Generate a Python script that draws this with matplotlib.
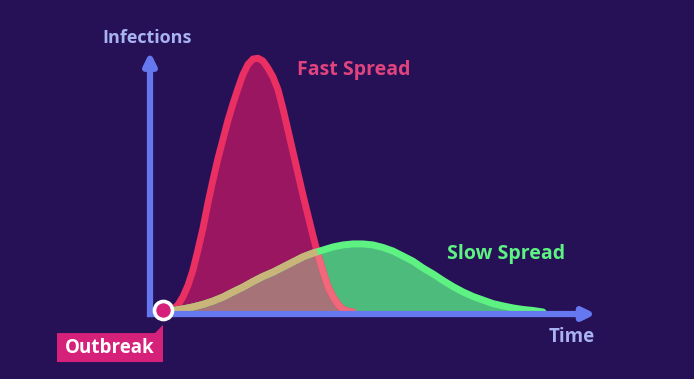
import numpy as np
import matplotlib
matplotlib.use("Agg")
import matplotlib.pyplot as plt
from matplotlib.patches import Polygon

# time in days, infections as % of the fast-spread peak
fast_days = list(range(0, 39))
fast_spread = [0, 0.2, 1, 2.8, 6, 10.5, 16.5, 24.5, 33, 43, 52, 60.5, 68, 75.5, 82, 88,
               93.5, 97.5, 99.6, 99.9, 98.8, 96, 92.5, 87.5, 80, 71.5, 63, 54.5, 46, 38,
               30, 22.5, 16, 10, 6, 3, 1, 0.3, 0]
slow_days = [0, 2, 4, 6, 8, 10, 12, 14, 16, 18, 20, 22, 24, 26, 28, 30, 32, 34, 36, 38,
             40, 42, 44, 46, 48, 50, 52, 54, 56, 58, 60, 62, 64, 66, 68, 70, 72, 74, 76]
slow_spread = [0, 0.6, 1.2, 2, 3, 4.3, 5.9, 7.9, 9.8, 12, 14, 15.7, 17.7, 19.7, 21.7, 23.2,
               24.4, 25.6, 26.4, 26.8, 26.8, 26.4, 25.4, 24, 22, 20, 17.3, 15, 12.4, 10,
               7.9, 6.1, 4.7, 3.3, 2.4, 1.6, 1, 0.6, 0]

BG = "#261157"
AXIS = "#6678f0"
LABEL = "#a9b2f2"
PINK = "#ea2f62"
PINK_FILL = "#9a1660"
GREEN = "#5ef283"
GREEN_FILL = "#4dbb7b"
MIX_FILL = "#a67478"
MIX_GREEN_LINE = "#c9b57a"
MIX_PINK_LINE = "#f0687a"
TAG = "#d6217a"

plt.rcParams["font.family"] = ["Open Sans", "DejaVu Sans"]

fig = plt.figure(figsize=(6.94, 3.79), dpi=100, facecolor=BG)
ax = fig.add_axes([0, 0, 1, 1], facecolor=BG)
ax.set_xlim(-32.6, 106.2)
ax.set_ylim(-26.38, 122.83)
ax.axis("off")

tf = np.array(fast_days)
fast = np.array(fast_spread)
ts = np.array(slow_days)
slow = np.array(slow_spread)

slow_poly = ax.fill_between(ts, 0, slow, color=GREEN_FILL, lw=0, zorder=1)
fast_poly = ax.fill_between(tf, 0, fast, color=PINK_FILL, lw=0, zorder=2)
fast_path = fast_poly.get_paths()[0]
slow_path = slow_poly.get_paths()[0]

# area under both curves
mix = ax.fill_between(ts, 0, slow, color=MIX_FILL, lw=0, zorder=3)
mix.set_clip_path(fast_path, ax.transData)

ax.plot(tf, fast, color=PINK, lw=5, solid_capstyle="round", solid_joinstyle="round", zorder=4)
l, = ax.plot(tf, fast, color=MIX_PINK_LINE, lw=5, solid_capstyle="round", zorder=5)
l.set_clip_path(slow_path, ax.transData)

ax.plot(ts, slow, color=GREEN, lw=5, solid_capstyle="round", solid_joinstyle="round", zorder=6)
l, = ax.plot(ts, slow, color=MIX_GREEN_LINE, lw=5, solid_capstyle="round", zorder=7)
l.set_clip_path(fast_path, ax.transData)

# axes with arrows
arrow = dict(arrowstyle="-|>,head_length=0.45,head_width=0.22", mutation_scale=16,
             lw=4.5, color=AXIS, shrinkA=0, shrinkB=0, joinstyle="round", capstyle="butt")
ax.annotate("", xy=(-2.6, 102.5), xytext=(-2.6, -2), arrowprops=arrow, zorder=8)
ax.annotate("", xy=(86.6, -0.8), xytext=(-3.2, -0.8), arrowprops=arrow, zorder=8)

# outbreak marker and tag
ax.plot([0], [0.8], "o", ms=13, mfc=TAG, mec="white", mew=2.6, zorder=10)
tag = Polygon([(-21.2, -8.3), (-1.6, -8.3), (0, -5.1), (0, -8.3), (0, -19.7), (-21.2, -19.7)],
              closed=True, color=TAG, lw=0, zorder=9)
ax.add_patch(tag)
ax.text(-10.6, -14.1, "Outbreak", color="white", fontsize=13.5, fontweight="bold",
        ha="center", va="center", zorder=11)

ax.text(-3.2, 107.9, "Infections", color=LABEL, fontsize=13, fontweight="bold",
        ha="center", va="center")
ax.text(81.8, -9.8, "Time", color=LABEL, fontsize=13.5, fontweight="bold",
        ha="center", va="center")
ax.text(38.2, 95.3, "Fast Spread", color="#e0437e", fontsize=14, fontweight="bold",
        ha="center", va="center")
ax.text(68.6, 22.8, "Slow Spread", color=GREEN, fontsize=14, fontweight="bold",
        ha="center", va="center")

fig.savefig("out.png", dpi=100, facecolor=BG)
